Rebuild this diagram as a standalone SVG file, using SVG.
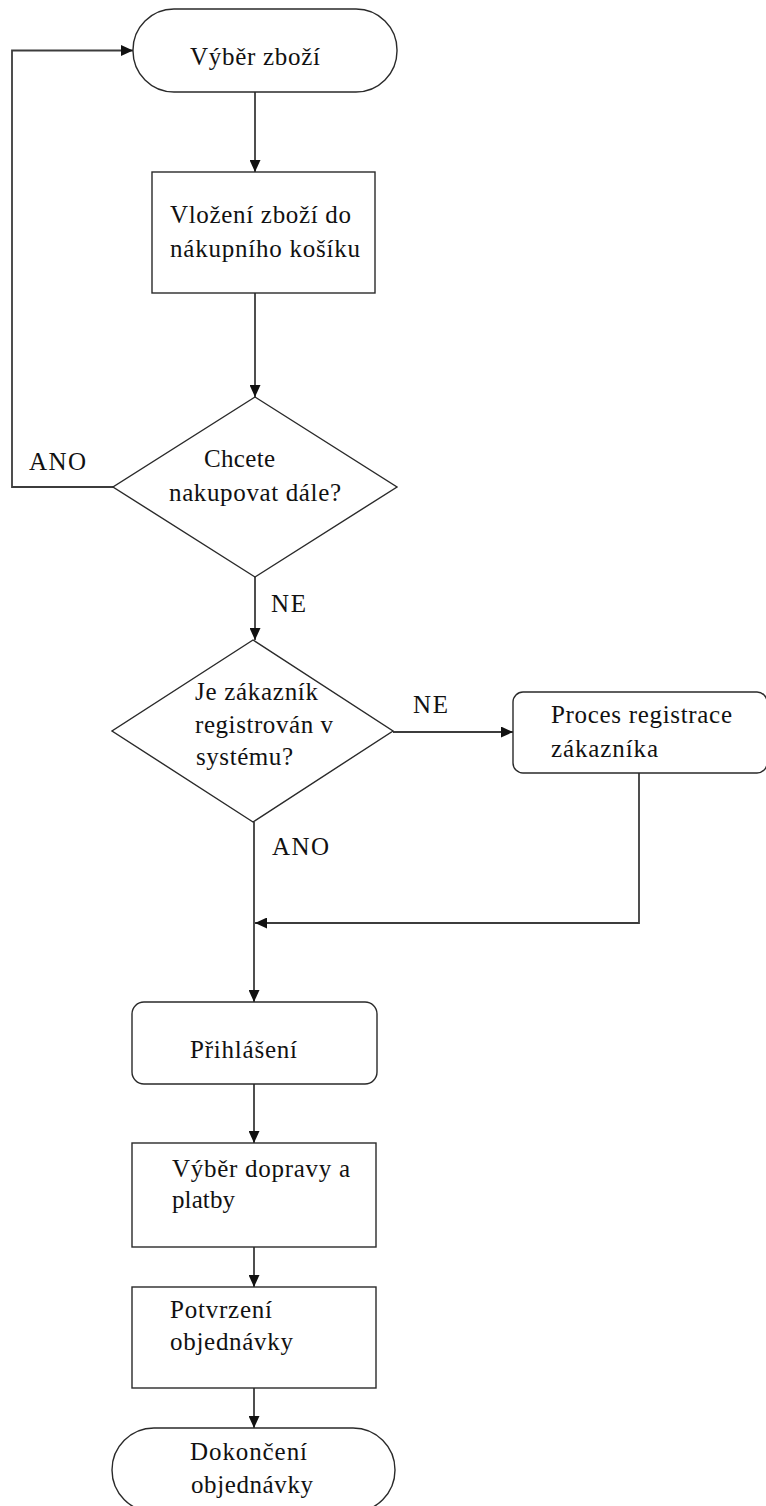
<svg xmlns="http://www.w3.org/2000/svg" width="766" height="1506" viewBox="0 0 766 1506">
<style>
.shape{fill:#fff;stroke:#2a2a2a;stroke-width:1.4}
.conn{fill:none;stroke:#3c3c3c;stroke-width:1.8}
text{font-family:"Liberation Serif","Times New Roman",serif;font-size:25px;fill:#111}
</style>
<defs>
<marker id="arr" markerWidth="12" markerHeight="11" refX="12" refY="5.5" orient="auto" markerUnits="userSpaceOnUse">
<path d="M0,0 L12,5.5 L0,11 z" fill="#111"/>
</marker>
</defs>
<rect width="766" height="1506" fill="#fff"/>
<g id="connectors">
<path class="conn" d="M113,487 H12 V50.5 H133" marker-end="url(#arr)"/>
<path class="conn" d="M255,92 V172" marker-end="url(#arr)"/>
<path class="conn" d="M255,293 V397" marker-end="url(#arr)"/>
<path class="conn" d="M255,577 V640" marker-end="url(#arr)"/>
<path class="conn" d="M393,732 H513" marker-end="url(#arr)"/>
<path class="conn" d="M639,773 V923 H255" marker-end="url(#arr)"/>
<path class="conn" d="M254,822 V1002" marker-end="url(#arr)"/>
<path class="conn" d="M254,1084 V1143" marker-end="url(#arr)"/>
<path class="conn" d="M254,1247 V1287" marker-end="url(#arr)"/>
<path class="conn" d="M254,1388 V1428" marker-end="url(#arr)"/>
<text x="29" y="470" textLength="57" lengthAdjust="spacing">ANO</text>
<text x="271" y="612" textLength="35" lengthAdjust="spacing">NE</text>
<text x="413" y="713" textLength="35" lengthAdjust="spacing">NE</text>
<text x="272" y="855" textLength="57" lengthAdjust="spacing">ANO</text>
</g>
<g id="start">
<rect class="shape" x="133" y="9" width="264" height="83" rx="41" ry="41"/>
<text x="190" y="65" textLength="130" lengthAdjust="spacing">Výběr zboží</text>
</g>
<g id="cart">
<rect class="shape" x="152" y="172" width="223" height="121"/>
<text x="170" y="223" textLength="181" lengthAdjust="spacing">Vložení zboží do</text>
<text x="170" y="257" textLength="190" lengthAdjust="spacing">nákupního košíku</text>
</g>
<g id="more">
<polygon class="shape" points="255,397 397,487 255,577 113,487"/>
<text x="204" y="467" textLength="71" lengthAdjust="spacing">Chcete</text>
<text x="169" y="501" textLength="172" lengthAdjust="spacing">nakupovat dále?</text>
</g>
<g id="registered">
<polygon class="shape" points="253,640 393,731 253,822 112,731"/>
<text x="195" y="700" textLength="123" lengthAdjust="spacing">Je zákazník</text>
<text x="195" y="733" textLength="138" lengthAdjust="spacing">registrován v</text>
<text x="196" y="765" textLength="97" lengthAdjust="spacing">systému?</text>
</g>
<g id="registration">
<rect class="shape" x="513" y="692" width="254" height="81" rx="10" ry="10"/>
<text x="551" y="723" textLength="181" lengthAdjust="spacing">Proces registrace</text>
<text x="551" y="757" textLength="107" lengthAdjust="spacing">zákazníka</text>
</g>
<g id="login">
<rect class="shape" x="132" y="1002" width="245" height="82" rx="12" ry="12"/>
<text x="190" y="1058" textLength="107" lengthAdjust="spacing">Přihlášení</text>
</g>
<g id="shipping">
<rect class="shape" x="132" y="1143" width="244" height="104"/>
<text x="172" y="1177" textLength="178" lengthAdjust="spacing">Výběr dopravy a</text>
<text x="172" y="1208" textLength="63" lengthAdjust="spacing">platby</text>
</g>
<g id="confirm">
<rect class="shape" x="132" y="1287" width="244" height="101"/>
<text x="170" y="1318" textLength="102" lengthAdjust="spacing">Potvrzení</text>
<text x="170" y="1350" textLength="123" lengthAdjust="spacing">objednávky</text>
</g>
<g id="end">
<rect class="shape" x="112" y="1428" width="283" height="84" rx="42" ry="42"/>
<text x="190" y="1460" textLength="117" lengthAdjust="spacing">Dokončení</text>
<text x="191" y="1493" textLength="122" lengthAdjust="spacing">objednávky</text>
</g>
</svg>
